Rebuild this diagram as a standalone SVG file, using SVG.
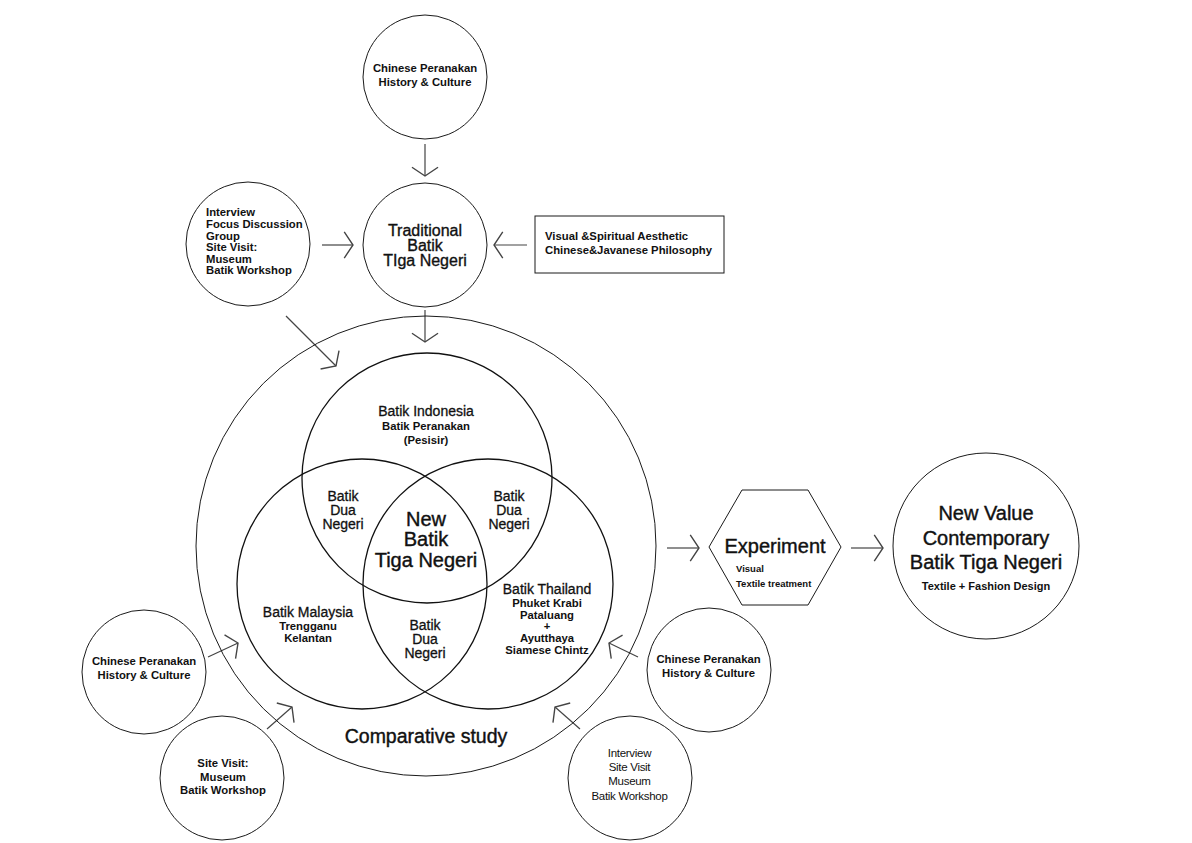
<svg xmlns="http://www.w3.org/2000/svg" width="1192" height="843" viewBox="0 0 1192 843">
<style>
  .c { fill: none; stroke: #1a1a1a; stroke-width: 1; }
  .v { fill: none; stroke: #111; stroke-width: 1.3; }
  .t { font-family: "Liberation Sans", Arial, sans-serif; fill: #111; }
  .b { font-weight: bold; font-size: 11.3px; }
  .m { text-anchor: middle; }
  .r14 { font-size: 14px; stroke: #111; stroke-width: 0.3; }
  .r16 { font-size: 16px; stroke: #111; stroke-width: 0.35; }
  .r20 { font-size: 20px; stroke: #111; stroke-width: 0.4; }
  .thin { font-size: 11.5px; font-weight: normal; }
  .a { fill: none; stroke: #444; stroke-width: 1.2; marker-end: url(#arr); }
</style>
<defs>
  <marker id="arr" markerUnits="userSpaceOnUse" markerWidth="20" markerHeight="30" viewBox="-10 -13 12 26" refX="0" refY="0" orient="auto" overflow="visible">
    <path d="M-7.6,-11.3 L0,0 L-7.6,11.3" fill="none" stroke="#444" stroke-width="1.2"/>
  </marker>
</defs>
<rect width="1192" height="843" fill="#fff"/>

<g id="connectors">
  <line class="a" x1="425" y1="144" x2="425" y2="176"/>
  <line class="a" x1="322" y1="245" x2="353" y2="245"/>
  <line class="a" x1="527" y1="245" x2="494" y2="245"/>
  <line class="a" x1="425" y1="310" x2="425" y2="342"/>
  <line class="a" x1="286" y1="316" x2="336" y2="366"/>
  <line class="a" x1="208" y1="657" x2="238" y2="643"/>
  <line class="a" x1="267" y1="729" x2="292" y2="707"/>
  <line class="a" x1="638" y1="657" x2="609" y2="643"/>
  <line class="a" x1="580" y1="729" x2="555" y2="707"/>
  <line class="a" x1="667" y1="548" x2="699" y2="548"/>
  <line class="a" x1="851" y1="548" x2="883" y2="548"/>
</g>

<g id="chinese-top">
  <circle class="c" cx="425" cy="77" r="62"/>
  <text class="t b m" x="425" y="72">Chinese Peranakan</text>
  <text class="t b m" x="425" y="86">History &amp; Culture</text>
</g>

<g id="traditional">
  <circle class="c" cx="425" cy="245" r="62"/>
  <text class="t r16 m" x="425" y="236">Traditional</text>
  <text class="t r16 m" x="425" y="251">Batik</text>
  <text class="t r16 m" x="425" y="266">TIga Negeri</text>
</g>

<g id="interview-top">
  <circle class="c" cx="248" cy="244" r="62"/>
  <text class="t b" x="206" y="216">Interview</text>
  <text class="t b" x="206" y="228">Focus Discussion</text>
  <text class="t b" x="206" y="239.5">Group</text>
  <text class="t b" x="206" y="251">Site Visit:</text>
  <text class="t b" x="206" y="262.5">Museum</text>
  <text class="t b" x="206" y="274">Batik Workshop</text>
</g>

<g id="aesthetic">
  <rect class="c" x="535" y="216" width="189" height="57"/>
  <text class="t b" x="545" y="239.5">Visual &amp;Spiritual Aesthetic</text>
  <text class="t b" x="545" y="253.5">Chinese&amp;Javanese Philosophy</text>
</g>

<g id="comparative">
  <circle class="c" cx="426" cy="546" r="230"/>
  <text class="t m" x="426" y="743" font-size="19.5" stroke="#111" stroke-width="0.4">Comparative study</text>
</g>

<g id="venn-indonesia">
  <circle class="v" cx="427" cy="478" r="125"/>
  <text class="t r14 m" x="426" y="416">Batik Indonesia</text>
  <text class="t b m" x="426" y="429.5">Batik Peranakan</text>
  <text class="t b m" x="426" y="443.5">(Pesisir)</text>
</g>

<g id="venn-malaysia">
  <circle class="v" cx="362" cy="584" r="125"/>
  <text class="t r14 m" x="308" y="617">Batik Malaysia</text>
  <text class="t b m" x="308" y="630">Trengganu</text>
  <text class="t b m" x="308" y="642">Kelantan</text>
</g>

<g id="venn-thailand">
  <circle class="v" cx="488" cy="584" r="125"/>
  <text class="t r14 m" x="547" y="594">Batik Thailand</text>
  <text class="t b m" x="547" y="606.5">Phuket Krabi</text>
  <text class="t b m" x="547" y="618.5">Pataluang</text>
  <text class="t b m" x="547" y="630">+</text>
  <text class="t b m" x="547" y="642">Ayutthaya</text>
  <text class="t b m" x="547" y="654">Siamese Chintz</text>
</g>

<g id="dua-left">
  <text class="t r14 m" x="343" y="501">Batik</text>
  <text class="t r14 m" x="343" y="515">Dua</text>
  <text class="t r14 m" x="343" y="529">Negeri</text>
</g>
<g id="dua-right">
  <text class="t r14 m" x="509" y="501">Batik</text>
  <text class="t r14 m" x="509" y="515">Dua</text>
  <text class="t r14 m" x="509" y="529">Negeri</text>
</g>
<g id="dua-bottom">
  <text class="t r14 m" x="425" y="630">Batik</text>
  <text class="t r14 m" x="425" y="644">Dua</text>
  <text class="t r14 m" x="425" y="658">Negeri</text>
</g>
<g id="new-batik">
  <text class="t r20 m" x="426" y="525.5">New</text>
  <text class="t r20 m" x="426" y="546">Batik</text>
  <text class="t r20 m" x="426" y="567">Tiga Negeri</text>
</g>

<g id="experiment">
  <polygon class="c" points="709,547 742,490 808,490 841,547 808,605 742,605"/>
  <text class="t r20 m" x="775" y="553">Experiment</text>
  <text class="t" x="736" y="572" font-size="9.5" font-weight="bold">Visual</text>
  <text class="t" x="736" y="587" font-size="9.5" font-weight="bold">Textile treatment</text>
</g>

<g id="new-value">
  <circle class="c" cx="986" cy="546" r="93"/>
  <text class="t r20 m" x="986" y="520">New Value</text>
  <text class="t r20 m" x="986" y="544.5">Contemporary</text>
  <text class="t r20 m" x="986" y="569">Batik Tiga Negeri</text>
  <text class="t m" x="986" y="589.5" font-size="11" font-weight="bold">Textile + Fashion Design</text>
</g>

<g id="chinese-left">
  <circle class="c" cx="144" cy="672" r="62"/>
  <text class="t b m" x="144" y="664.5">Chinese Peranakan</text>
  <text class="t b m" x="144" y="679">History &amp; Culture</text>
</g>

<g id="sitevisit-left">
  <circle class="c" cx="222" cy="778" r="62"/>
  <text class="t b m" x="223" y="767">Site Visit:</text>
  <text class="t b m" x="223" y="780.5">Museum</text>
  <text class="t b m" x="223" y="794">Batik Workshop</text>
</g>

<g id="chinese-right">
  <circle class="c" cx="709" cy="670" r="62"/>
  <text class="t b m" x="708.5" y="663">Chinese Peranakan</text>
  <text class="t b m" x="708.5" y="677">History &amp; Culture</text>
</g>

<g id="interview-right">
  <circle class="c" cx="630" cy="778" r="62"/>
  <text class="t thin m" x="629.5" y="757" letter-spacing="-0.3">Interview</text>
  <text class="t thin m" x="629.5" y="771" letter-spacing="-0.3">Site Visit</text>
  <text class="t thin m" x="629.5" y="785" letter-spacing="-0.3">Museum</text>
  <text class="t thin m" x="629.5" y="800" letter-spacing="-0.3">Batik Workshop</text>
</g>
</svg>
